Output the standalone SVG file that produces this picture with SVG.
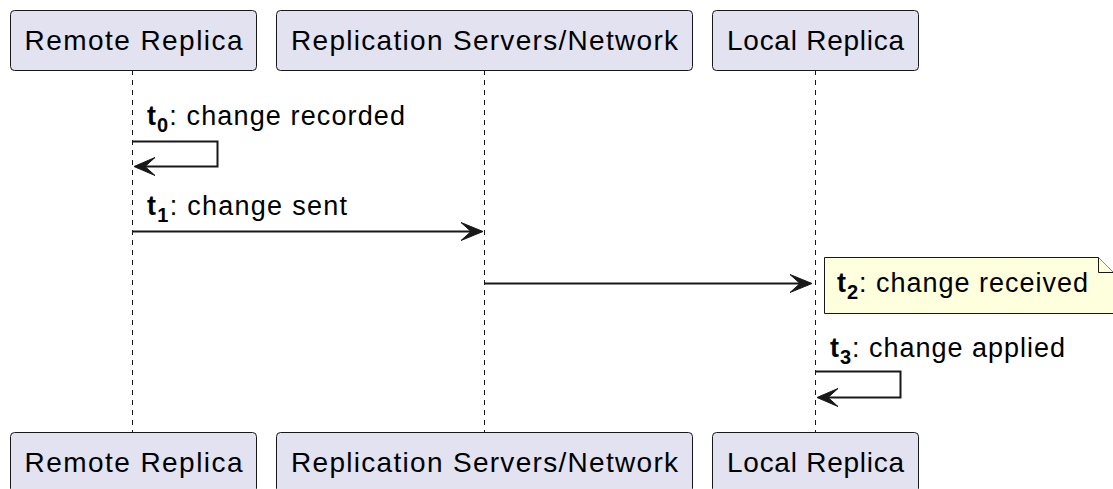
<svg xmlns="http://www.w3.org/2000/svg" width="1113" height="489" viewBox="0 0 1113 489">
<style>
.box{fill:#E2E2F0;stroke:#181818;stroke-width:1}
.pt{font-family:"Liberation Sans",Arial,sans-serif;font-size:28px;fill:#000;text-anchor:middle}
.mt{font-family:"Liberation Sans",Arial,sans-serif;font-size:27px;fill:#000}
.b{font-weight:bold}
.sub{font-weight:bold;font-size:20px}
.life{stroke:#181818;stroke-width:1;stroke-dasharray:5,5;fill:none}
.msg{stroke:#181818;stroke-width:2;fill:none}
.head{fill:#181818;stroke:#181818;stroke-width:1}
.note{fill:#FEFFDD;stroke:#181818;stroke-width:1}
</style>
<g id="lifelines">
<line class="life" x1="132.5" y1="70" x2="132.5" y2="432"/>
<line class="life" x1="484.5" y1="70" x2="484.5" y2="432"/>
<line class="life" x1="815.5" y1="70" x2="815.5" y2="432"/>
</g>
<g id="remote-top"><rect class="box" x="10.5" y="10.5" width="246" height="60" rx="4"/><text class="pt" x="133.5" y="50" textLength="218" lengthAdjust="spacing">Remote Replica</text></g>
<g id="network-top"><rect class="box" x="276.5" y="10.5" width="416" height="60" rx="4"/><text class="pt" x="484.5" y="50" textLength="387" lengthAdjust="spacing">Replication Servers/Network</text></g>
<g id="local-top"><rect class="box" x="712.5" y="10.5" width="206" height="60" rx="4"/><text class="pt" x="815.5" y="50" textLength="177" lengthAdjust="spacing">Local Replica</text></g>
<g id="remote-bottom"><rect class="box" x="10.5" y="432.5" width="246" height="60" rx="4"/><text class="pt" x="133.5" y="472" textLength="218" lengthAdjust="spacing">Remote Replica</text></g>
<g id="network-bottom"><rect class="box" x="276.5" y="432.5" width="416" height="60" rx="4"/><text class="pt" x="484.5" y="472" textLength="387" lengthAdjust="spacing">Replication Servers/Network</text></g>
<g id="local-bottom"><rect class="box" x="712.5" y="432.5" width="206" height="60" rx="4"/><text class="pt" x="815.5" y="472" textLength="177" lengthAdjust="spacing">Local Replica</text></g>
<g id="connectors">
<polyline class="msg" points="132.5,141.5 217.5,141.5 217.5,166.5 136,166.5"/>
<polygon class="head" points="134,166.5 155,157.5 145,166.5 155,175.5"/>
<line class="msg" x1="132.5" y1="231.5" x2="480" y2="231.5"/>
<polygon class="head" points="483,231.5 461,222.5 471,231.5 461,240.5"/>
<line class="msg" x1="484.5" y1="283.5" x2="809" y2="283.5"/>
<polygon class="head" points="812,283.5 790,274.5 800,283.5 790,292.5"/>
<polyline class="msg" points="815.5,371.5 900.5,371.5 900.5,397.5 819,397.5"/>
<polygon class="head" points="817,397.5 838,388.5 828,397.5 838,406.5"/>
</g>
<g id="labels">
<text class="mt" x="147" y="125" textLength="258" lengthAdjust="spacing"><tspan class="b">t</tspan><tspan class="sub" dy="7">0</tspan><tspan dy="-7">: change recorded</tspan></text>
<text class="mt" x="147" y="215" textLength="200" lengthAdjust="spacing"><tspan class="b">t</tspan><tspan class="sub" dy="7">1</tspan><tspan dy="-7">: change sent</tspan></text>
<text class="mt" x="830" y="357" textLength="235" lengthAdjust="spacing"><tspan class="b">t</tspan><tspan class="sub" dy="7">3</tspan><tspan dy="-7">: change applied</tspan></text>
</g>
<g id="note">
<polygon class="note" points="824.5,257.5 1098.5,257.5 1113.5,272.5 1113.5,313.5 824.5,313.5"/>
<polyline class="note" points="1098.5,257.5 1098.5,272.5 1113.5,272.5"/>
<text class="mt" x="837" y="292" textLength="251" lengthAdjust="spacing"><tspan class="b">t</tspan><tspan class="sub" dy="7">2</tspan><tspan dy="-7">: change received</tspan></text>
</g>
</svg>
